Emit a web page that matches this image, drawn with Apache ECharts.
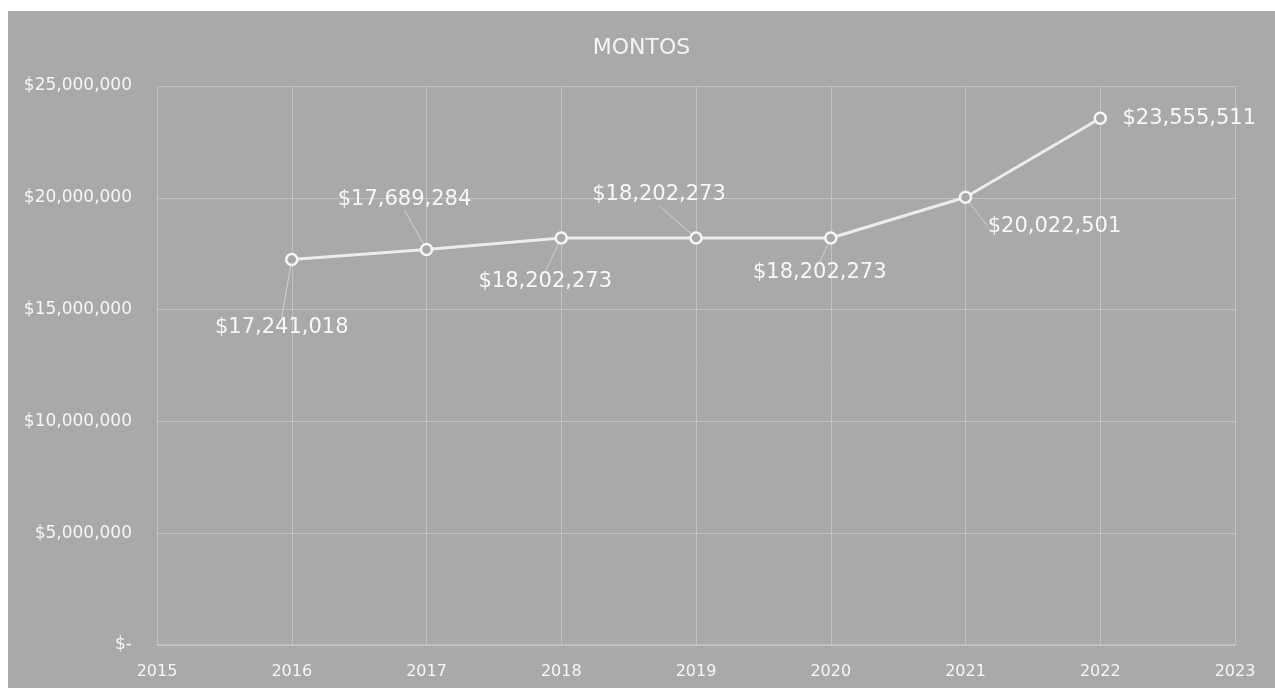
<!DOCTYPE html>
<html>
<head>
<meta charset="utf-8">
<script src="https://cdn.jsdelivr.net/npm/echarts@6/dist/echarts.min.js"></script>
<style>
html,body{margin:0;padding:0;background:#ffffff;width:1275px;height:688px;overflow:hidden;}
#chart{position:absolute;left:8px;top:11px;width:1267px;height:677px;}
</style>
</head>
<body>
<div id="chart"></div>
<script>
const title = 'MONTOS';
const years = [2016, 2017, 2018, 2019, 2020, 2021, 2022];
const montos = [17241018, 17689284, 18202273, 18202273, 18202273, 20022501, 23555511];
const xTicks = [2015, 2016, 2017, 2018, 2019, 2020, 2021, 2022, 2023];
const yTicks = [0, 5000000, 10000000, 15000000, 20000000, 25000000];

// label placement relative to each point (style, not data)
const labelShift = [[-10, 68], [-22, -50], [-16, 44], [-37, -43], [-11, 35], [89, 29], [89, 0]];
const showLeader = [true, true, true, true, true, true, false];

const fmt = v => v === 0 ? '$-' : '$' + Math.round(v).toLocaleString('en-US');

const chart = echarts.init(document.getElementById('chart'), null, {renderer: 'canvas'});
const FONT = '"DejaVu Sans", "Open Sans", sans-serif';

chart.setOption({
  animation: false,
  backgroundColor: '#a9a9a9',
  title: {
    text: title,
    left: 'center',
    top: 21,
    textStyle: {color: '#f4f4f4', fontFamily: FONT, fontSize: 22, fontWeight: 'normal'}
  },
  grid: {left: 149, right: 40, top: 75, bottom: 43, containLabel: false},
  xAxis: {
    type: 'value',
    min: xTicks[0],
    max: xTicks[xTicks.length - 1],
    interval: 1,
    axisLine: {show: true, lineStyle: {color: '#c6c6c6', width: 1.5}},
    axisTick: {show: false},
    splitLine: {show: true, lineStyle: {color: '#c2c2c2', width: 1}},
    axisLabel: {
      color: '#f6f6f6', fontFamily: FONT, fontSize: 16, margin: 19,
      formatter: v => String(v)
    }
  },
  yAxis: {
    type: 'value',
    min: yTicks[0],
    max: yTicks[yTicks.length - 1],
    interval: yTicks[1] - yTicks[0],
    axisLine: {show: false},
    axisTick: {show: false},
    splitLine: {show: true, lineStyle: {color: '#c2c2c2', width: 1}},
    axisLabel: {
      color: '#f6f6f6', fontFamily: FONT, fontSize: 17, margin: 25,
      formatter: fmt
    }
  },
  series: [{
    type: 'line',
    data: years.map((y, i) => ({
      value: [y, montos[i]],
      labelLine: {show: showLeader[i]}
    })),
    symbol: 'circle',
    symbolSize: 11,
    lineStyle: {color: '#ececec', width: 3},
    itemStyle: {color: '#a9a9a9', borderColor: '#f6f6f6', borderWidth: 2.5},
    label: {
      show: true,
      position: 'inside',
      color: '#f8f8f8',
      fontFamily: FONT,
      fontSize: 21,
      formatter: p => fmt(p.value[1])
    },
    labelLine: {
      show: true,
      lineStyle: {color: '#d0d0d0', width: 1}
    },
    labelLayout: p => ({dx: labelShift[p.dataIndex][0], dy: labelShift[p.dataIndex][1]}),
    z: 3
  }]
});
</script>
</body>
</html>
